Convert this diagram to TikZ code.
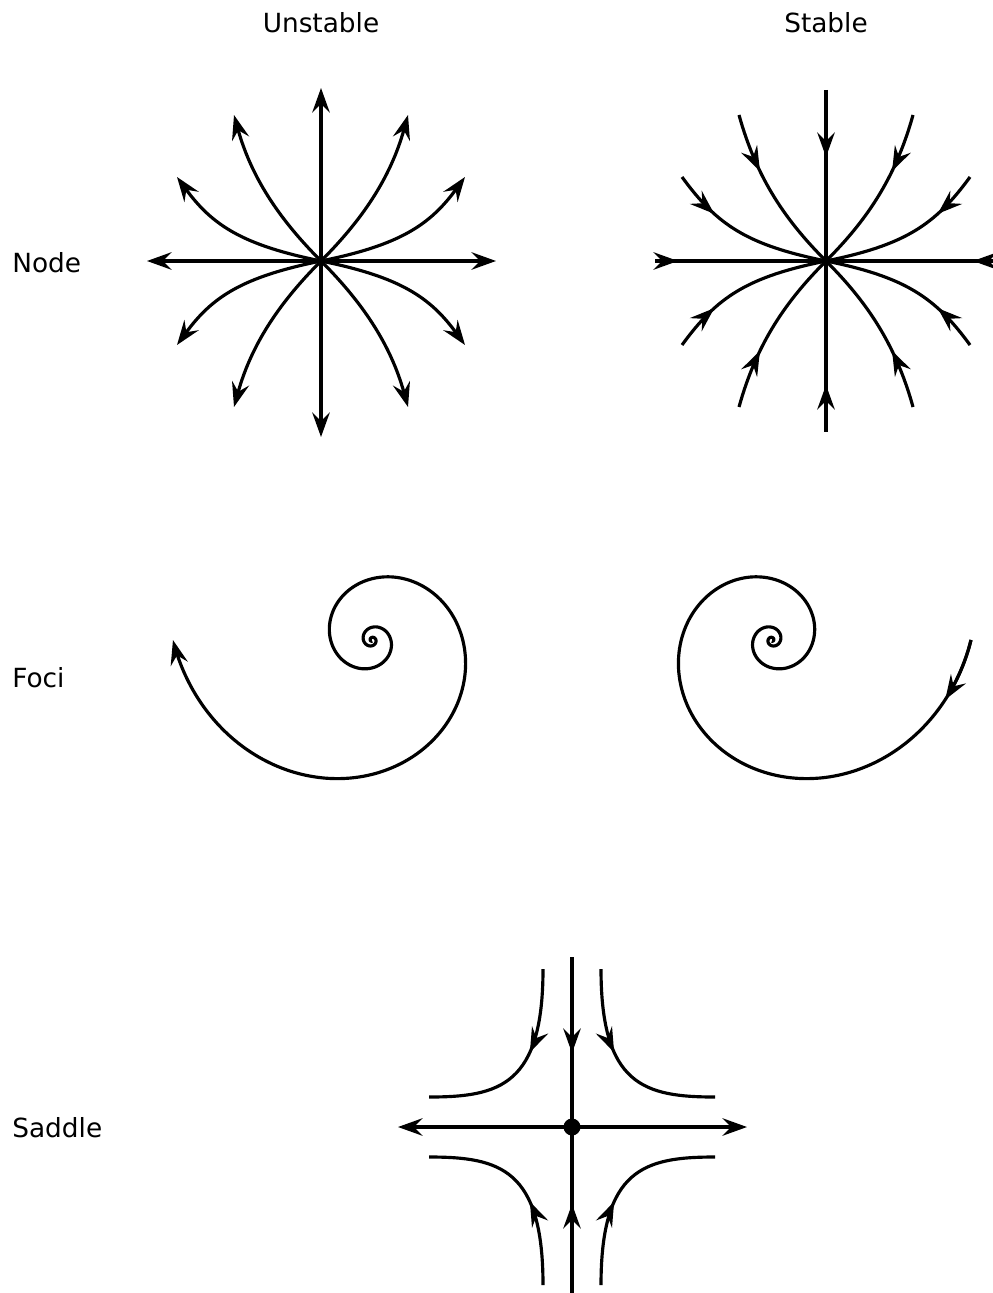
\documentclass[tikz,border=0pt]{standalone}
\usepackage{fontspec}
\setmainfont{DejaVu Sans}
\usetikzlibrary{arrows.meta,decorations.markings}

\begin{document}
\begin{tikzpicture}[
    x=0.02cm, y=-0.02cm,
    >={Stealth[length=14pt,width=10pt,inset=5pt]},
    traj/.style={line width=1.8pt},
    flow/.style={postaction={decorate, decoration={markings,
        mark=at position #1 with {\arrow{>}}}}},
    heading/.style={font=\fontsize{15}{18}\selectfont, inner sep=0pt},
    rowname/.style={font=\fontsize{15}{18}\selectfont, inner sep=0pt, anchor=west},
    dot/.style={circle, fill, inner sep=0pt, minimum size=0.34cm}
]
\useasboundingbox (0,0) rectangle (992,1293);

% Column and row titles
\node[heading] (unstable) at (321,23) {Unstable};
\node[heading] (stable) at (826,23) {Stable};
\node[rowname] (node) at (12,263) {Node};
\node[rowname] (foci) at (12,678) {Foci};
\node[rowname] (saddle) at (12,1128) {Saddle};

% Unstable node
\begin{scope}[shift={(321,261)}]
    \coordinate (un) at (0,0);
    \draw[traj, <->] (-174,0) -- (175,0);
    \draw[traj, <->] (0,-173) -- (0,176);
    \foreach \sx in {1,-1} {
        \foreach \sy in {1,-1} {
            \begin{scope}[xscale=\sx, yscale=\sy]
                \draw[traj, ->] (un) .. controls (79,-16) and (109,-36) .. (144,-84);
                \draw[traj, ->] (un) .. controls (39,-39) and (69,-81) .. (87,-146);
            \end{scope}
        }
    }
\end{scope}

% Stable node
\begin{scope}[shift={(826,261)}]
    \coordinate (sn) at (0,0);
    \draw[traj, flow=1.34cm] (0,-171) -- (sn);
    \draw[traj, flow=0.94cm] (0,171) -- (sn);
    \draw[traj, flow=0.46cm] (-171,0) -- (sn);
    \draw[traj, flow=0.46cm] (170,0) -- (sn);
    \foreach \sx in {1,-1} {
        \foreach \sy in {1,-1} {
            \begin{scope}[xscale=\sx, yscale=\sy]
                \draw[traj, flow=0.98cm] (144,-84) .. controls (109,-36) and (79,-16) .. (0,0);
                \draw[traj, flow=1.2cm] (87,-146) .. controls (69,-81) and (39,-39) .. (0,0);
            \end{scope}
        }
    }
\end{scope}

% Unstable focus
\begin{scope}[shift={(372,640)}]
    \draw[traj, ->] plot[domain=-1000:180, samples=500, smooth, variable=\t]
        ({199*exp(0.25*(\t-180)*pi/180)*cos(\t)}, {199*exp(0.25*(\t-180)*pi/180)*sin(\t)});
\end{scope}

% Stable focus
\begin{scope}[shift={(772,640)}, xscale=-1]
    \draw[traj] plot[domain=0:1180, samples=500, smooth, variable=\t]
        ({199*exp(-0.25*\t*pi/180)*cos(180-\t)}, {199*exp(-0.25*\t*pi/180)*sin(180-\t)});
    % arrow on the outer turn
    \draw[traj, ->] plot[domain=0:19, samples=8, smooth, variable=\t]
        ({199*exp(-0.25*\t*pi/180)*cos(180-\t)}, {199*exp(-0.25*\t*pi/180)*sin(180-\t)});
\end{scope}

% Saddle
\begin{scope}[shift={(572,1127)}]
    \node[dot] (sad) at (0,0) {};
    \draw[traj, <->] (-174,0) -- (175,0);
    \draw[traj, flow=1.92cm] (0,-170) -- (sad.center);
    \draw[traj, flow=1.86cm] (0,170) -- (sad.center);
    \foreach \sx in {1,-1} {
        \foreach \sy in {1,-1} {
            \begin{scope}[xscale=\sx, yscale=\sy]
                \draw[traj, flow=1.7cm] (-29,-158) .. controls (-29,-42) and (-72,-30) .. (-143,-30);
            \end{scope}
        }
    }
\end{scope}

\end{tikzpicture}
\end{document}
